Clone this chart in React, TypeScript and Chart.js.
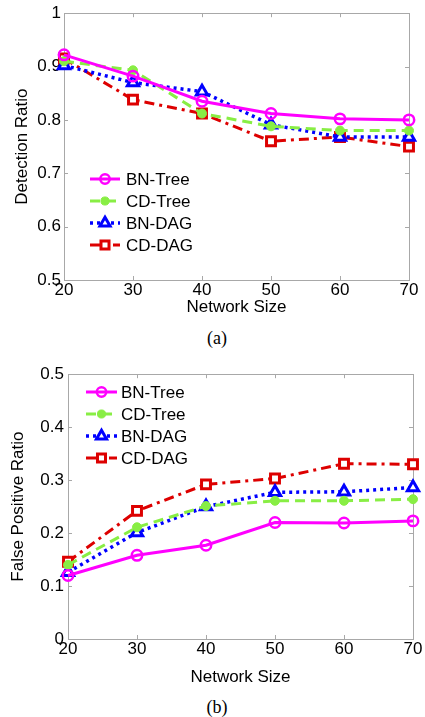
import React, { useEffect, useRef } from "react";
import { Chart, registerables } from "chart.js";

Chart.register(...registerables);

const networkSizes = ["20", "30", "40", "50", "60", "70"];
const seriesNames = ["BN-Tree", "CD-Tree", "BN-DAG", "CD-DAG"];

const detectionBNTree = [0.922, 0.882, 0.835, 0.812, 0.802, 0.8];
const detectionCDTree = [0.91, 0.893, 0.812, 0.788, 0.78, 0.78];
const detectionBNDAG = [0.902, 0.87, 0.853, 0.791, 0.768, 0.768];
const detectionCDDAG = [0.915, 0.838, 0.812, 0.76, 0.768, 0.75];

const fpBNTree = [0.12, 0.158, 0.177, 0.22, 0.219, 0.223];
const fpCDTree = [0.14, 0.211, 0.251, 0.261, 0.261, 0.264];
const fpBNDAG = [0.126, 0.201, 0.25, 0.277, 0.278, 0.286];
const fpCDDAG = [0.146, 0.242, 0.292, 0.303, 0.331, 0.33];

const detectionTicks = [0.5, 0.6, 0.7, 0.8, 0.9, 1];
const fpTicks = [0, 0.1, 0.2, 0.3, 0.4, 0.5];

const FONT = "'Liberation Sans', Arial, sans-serif";

const styles = [
  { color: "#ff00ff", dash: [] as number[], width: 3, point: "circle", radius: 5.2, fill: "rgba(0,0,0,0)", pbw: 2.5 },
  { color: "#88ee44", dash: [10, 6], width: 3, point: "circle", radius: 4.5, fill: "#88ee44", pbw: 1 },
  { color: "#0000ff", dash: [3, 4], width: 3.5, point: "triangle", radius: 6.5, fill: "#ffffff", pbw: 3 },
  { color: "#dd0000", dash: [10, 5, 3, 5], width: 3, point: "rect", radius: 6.3, fill: "#ffffff", pbw: 3 },
];

function makeDatasets(values: number[][]) {
  return values.map((v, i) => ({
    label: seriesNames[i],
    data: v,
    borderColor: styles[i].color,
    borderDash: styles[i].dash,
    borderWidth: styles[i].width,
    pointStyle: styles[i].point,
    pointRadius: styles[i].radius,
    pointBackgroundColor: styles[i].fill,
    pointBorderColor: styles[i].color,
    pointBorderWidth: styles[i].pbw,
    tension: 0,
    fill: false,
  }));
}

function drawMarker(ctx: CanvasRenderingContext2D, style: string, x: number, y: number, r: number) {
  ctx.beginPath();
  if (style === "circle") {
    ctx.arc(x, y, r, 0, Math.PI * 2);
  } else if (style === "triangle") {
    ctx.moveTo(x, y - r);
    ctx.lineTo(x + 0.866 * r, y + 0.5 * r);
    ctx.lineTo(x - 0.866 * r, y + 0.5 * r);
    ctx.closePath();
  } else {
    const s = Math.SQRT1_2 * r;
    ctx.rect(x - s, y - s, 2 * s, 2 * s);
  }
}

const boxPlugin = {
  id: "matlabBox",
  beforeDatasetsDraw(chart: any) {
    const { ctx, chartArea: a, scales } = chart;
    ctx.save();
    ctx.strokeStyle = "#a8a8a8";
    ctx.lineWidth = 1;
    ctx.strokeRect(Math.round(a.left) + 0.5, Math.round(a.top) + 0.5, Math.round(a.right - a.left), Math.round(a.bottom - a.top));
    const tl = 4;
    ctx.beginPath();
    scales.x.ticks.forEach((_t: any, i: number) => {
      const px = Math.round(scales.x.getPixelForTick(i)) + 0.5;
      ctx.moveTo(px, a.bottom);
      ctx.lineTo(px, a.bottom - tl);
      ctx.moveTo(px, a.top);
      ctx.lineTo(px, a.top + tl);
    });
    scales.y.ticks.forEach((_t: any, i: number) => {
      const py = Math.round(scales.y.getPixelForTick(i)) + 0.5;
      ctx.moveTo(a.left, py);
      ctx.lineTo(a.left + tl, py);
      ctx.moveTo(a.right, py);
      ctx.lineTo(a.right - tl, py);
    });
    ctx.stroke();
    ctx.restore();
  },
};

function makeLegendPlugin(x0: number, y0: number, gap: number, lineLen: number, textGap: number) {
  return {
    id: "matlabLegend",
    afterDatasetsDraw(chart: any) {
      const ctx: CanvasRenderingContext2D = chart.ctx;
      ctx.save();
      chart.data.datasets.forEach((ds: any, i: number) => {
        const y = y0 + i * gap;
        ctx.strokeStyle = ds.borderColor;
        ctx.lineWidth = ds.borderWidth;
        ctx.setLineDash(ds.borderDash || []);
        ctx.beginPath();
        ctx.moveTo(x0, y);
        ctx.lineTo(x0 + lineLen, y);
        ctx.stroke();
        ctx.setLineDash([]);
        drawMarker(ctx, ds.pointStyle, x0 + lineLen / 2, y, ds.pointRadius * 0.9);
        ctx.fillStyle = ds.pointBackgroundColor;
        ctx.fill();
        ctx.lineWidth = ds.pointBorderWidth;
        ctx.strokeStyle = ds.pointBorderColor;
        ctx.stroke();
        ctx.fillStyle = "#000";
        ctx.font = `17px ${FONT}`;
        ctx.textAlign = "left";
        ctx.textBaseline = "middle";
        ctx.fillText(ds.label, x0 + lineLen + textGap, y + 1);
      });
      ctx.restore();
    },
  };
}

type Cfg = {
  values: number[][];
  ticks: number[];
  yTitle: string;
  yWidth: number;
  yTitlePad: number;
  yTickPad: number;
  padTop: number;
  padRight: number;
  xHeight: number;
  legend: [number, number, number, number, number];
  height: number;
};

function LineChart({ cfg }: { cfg: Cfg }) {
  const ref = useRef<HTMLCanvasElement>(null);
  useEffect(() => {
    if (!ref.current) return;
    const tickVals = cfg.ticks;
    const chart = new Chart(ref.current, {
      type: "line",
      data: { labels: networkSizes, datasets: makeDatasets(cfg.values) as any },
      options: {
        animation: false,
        responsive: false,
        maintainAspectRatio: false,
        layout: { padding: { left: 0, right: cfg.padRight, top: cfg.padTop, bottom: 0 } },
        plugins: { legend: { display: false }, tooltip: { enabled: false } },
        scales: {
          x: {
            type: "category",
            offset: false,
            grid: { display: false, drawTicks: false },
            border: { display: false },
            ticks: { color: "#000", font: { family: FONT, size: 17 }, padding: 0, maxRotation: 0, autoSkip: false },
            title: {
              display: true,
              text: "Network Size",
              color: "#000",
              font: { family: FONT, size: 17 },
              padding: { top: 0, bottom: 7 },
            },
            afterFit: (s: any) => {
              s.height = cfg.xHeight;
            },
          },
          y: {
            type: "linear",
            min: tickVals[0],
            max: tickVals[tickVals.length - 1],
            grid: { display: false, drawTicks: false },
            border: { display: false },
            afterBuildTicks: (s: any) => {
              s.ticks = tickVals.map((v) => ({ value: v }));
            },
            ticks: {
              color: "#000",
              font: { family: FONT, size: 17 },
              padding: cfg.yTickPad,
              callback: (v: any) => String(+Number(v).toFixed(2)),
            },
            title: {
              display: true,
              text: cfg.yTitle,
              color: "#000",
              font: { family: FONT, size: 17 },
              padding: { top: cfg.yTitlePad, bottom: 0 },
            },
            afterFit: (s: any) => {
              s.width = cfg.yWidth;
            },
          },
        },
      },
      plugins: [boxPlugin, makeLegendPlugin(...cfg.legend)],
    });
    return () => chart.destroy();
  }, [cfg]);
  return <canvas ref={ref} width={425} height={cfg.height} style={{ display: "block", width: 425, height: cfg.height }} />;
}

const cfgA: Cfg = {
  values: [detectionBNTree, detectionCDTree, detectionBNDAG, detectionCDDAG],
  ticks: detectionTicks,
  yTitle: "Detection Ratio",
  yWidth: 64,
  yTitlePad: 12,
  yTickPad: 3,
  padTop: 12,
  padRight: 16,
  xHeight: 45,
  legend: [90, 179, 22, 30, 6],
  height: 325,
};

const cfgB: Cfg = {
  values: [fpBNTree, fpCDTree, fpBNDAG, fpCDDAG],
  ticks: fpTicks,
  yTitle: "False Positive Ratio",
  yWidth: 68,
  yTitlePad: 8,
  yTickPad: 4,
  padTop: 10,
  padRight: 12,
  xHeight: 56,
  legend: [86, 32, 22, 31, 4],
  height: 335,
};

const captionStyle: React.CSSProperties = {
  position: "absolute",
  left: 167,
  width: 100,
  textAlign: "center",
  fontFamily: "'Liberation Serif', 'Times New Roman', serif",
  fontSize: 18,
  lineHeight: "20px",
  color: "#000",
};

export default function App() {
  useEffect(() => {
    document.body.style.margin = "0";
    document.body.style.background = "#fff";
  }, []);
  return (
    <div style={{ position: "relative", width: 425, height: 717, background: "#fff", overflow: "hidden" }}>
      <div style={{ position: "absolute", left: 0, top: 0 }}>
        <LineChart cfg={cfgA} />
      </div>
      <div style={{ ...captionStyle, top: 328 }}>(a)</div>
      <div style={{ position: "absolute", left: 0, top: 360 }}>
        <LineChart cfg={cfgB} />
      </div>
      <div style={{ ...captionStyle, top: 697 }}>(b)</div>
    </div>
  );
}
